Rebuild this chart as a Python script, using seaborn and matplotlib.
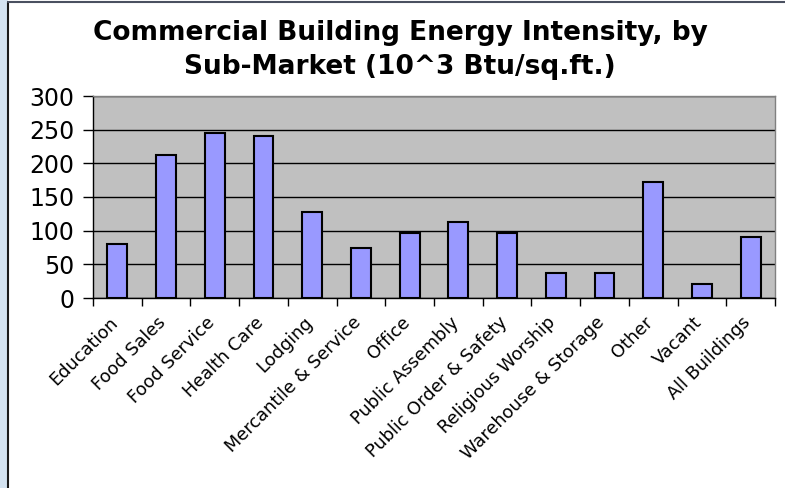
import numpy as np
import pandas as pd
import seaborn as sns
import matplotlib.pyplot as plt
import matplotlib.transforms as mtransforms
from matplotlib.patches import Rectangle
from matplotlib.lines import Line2D
from matplotlib.ticker import FixedLocator, NullFormatter

# Datos
categorias = ["Education", "Food Sales", "Food Service", "Health Care", "Lodging",
              "Mercantile & Service", "Office", "Public Assembly",
              "Public Order & Safety", "Religious Worship", "Warehouse & Storage",
              "Other", "Vacant", "All Buildings"]
intensidad = [80, 212, 245, 241, 127, 75, 97, 113, 97, 37, 37, 172, 21, 90]

titulo = "Commercial Building Energy Intensity, by\nSub-Market (10^3 Btu/sq.ft.)"
y_ticks = [0, 50, 100, 150, 200, 250, 300]

df = pd.DataFrame({"categoria": categorias, "valor": intensidad})

sns.set_theme(style="white")
plt.rcParams["font.family"] = ["DejaVu Sans"]
plt.rcParams["text.color"] = "black"
plt.rcParams["xtick.color"] = "black"
plt.rcParams["ytick.color"] = "black"

fig = plt.figure(figsize=(7.85, 4.88), dpi=100)
ax = fig.add_axes([93 / 785, 1 - 298 / 488, (775 - 93) / 785, (298 - 96) / 488])

sns.barplot(data=df, x="categoria", y="valor", ax=ax, color="#9999FF",
            saturation=1, width=0.41, edgecolor="black", linewidth=1.5, zorder=3)

ax.set_facecolor("#C0C0C0")
ax.set_ylim(0, 300)
ax.set_xlim(-0.5, len(categorias) - 0.5)
ax.set_yticks(y_ticks)
ax.yaxis.grid(True, color="black", linewidth=1, zorder=1)
ax.set_axisbelow(True)
ax.set_xlabel("")
ax.set_ylabel("")

# bordes del área de trazado
for lado in ["top", "right"]:
    ax.spines[lado].set_color("#808080")
    ax.spines[lado].set_linewidth(1)
for lado in ["left", "bottom"]:
    ax.spines[lado].set_color("black")
    ax.spines[lado].set_linewidth(1)

# marcas del eje x entre categorías (estilo Excel)
ax.xaxis.set_minor_locator(FixedLocator(np.arange(-0.5, len(categorias), 1)))
ax.xaxis.set_minor_formatter(NullFormatter())
ax.tick_params(axis="x", which="major", length=0, pad=4)
ax.tick_params(axis="x", which="minor", length=6, width=1, color="black", direction="out", bottom=True)
ax.tick_params(axis="y", length=7, width=1, color="black", direction="out", left=True,
               labelsize=17, pad=6.5, labelcolor="black")
ax.set_xticks(range(len(categorias)))
ax.set_xticklabels(categorias, rotation=45, ha="right", rotation_mode="anchor",
                   fontsize=12.8, color="black")

# desplazar etiquetas del eje x hacia abajo e izquierda como en el original
desplazamiento = mtransforms.ScaledTranslation(-9 / 100, -10 / 100, fig.dpi_scale_trans)
for etiqueta in ax.get_xticklabels():
    etiqueta.set_transform(etiqueta.get_transform() + desplazamiento)

fig.text(400 / 785, 1 - 50 / 488, titulo, ha="center", va="center",
         fontsize=19, fontweight="bold", linespacing=1.38, color="black")

# marco de la captura
fig.patches.append(Rectangle((0, 0), 7.5 / 785, 1, transform=fig.transFigure,
                             facecolor="#D4E3F1", edgecolor="none"))
fig.lines.append(Line2D([8 / 785, 8 / 785], [0, 1 - 1.5 / 488], transform=fig.transFigure,
                        color="#1a1a1a", linewidth=1.5))
fig.lines.append(Line2D([8 / 785, 1], [1 - 1.5 / 488, 1 - 1.5 / 488], transform=fig.transFigure,
                        color="#4a5060", linewidth=1.5))

fig.savefig("out.png", dpi=100)
